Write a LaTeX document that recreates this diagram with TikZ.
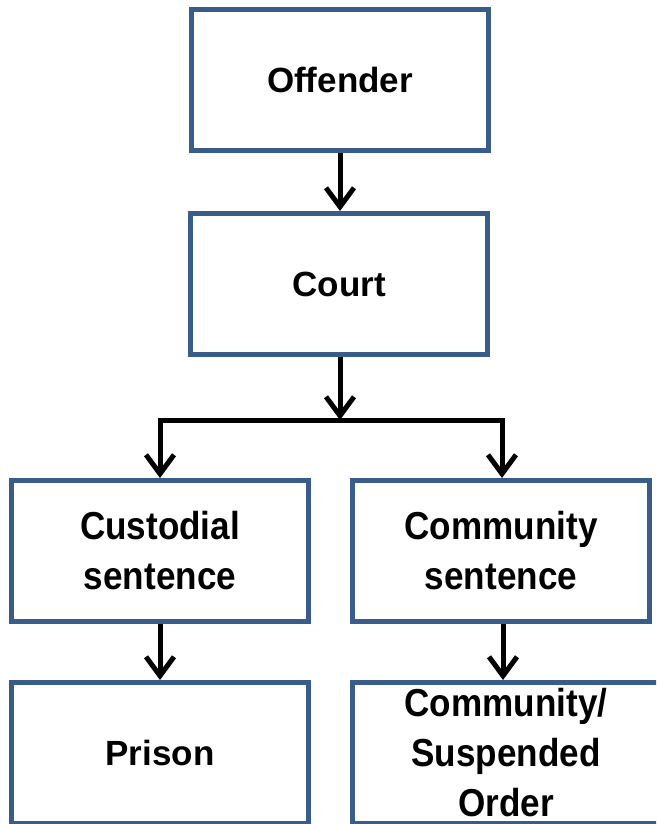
\documentclass[tikz,border=0pt]{standalone}
\usepackage{fontspec}
\setmainfont{Liberation Sans}
\newfontfamily\narrowfont[FakeStretch=0.9]{Liberation Sans}
\usetikzlibrary{arrows.meta}
\definecolor{boxblue}{HTML}{385D8A}

\begin{document}
\begin{tikzpicture}[x=1pt,y=-1pt,
  box/.style={draw=boxblue,line width=5pt,fill=white,minimum width=297pt,
    minimum height=141pt,align=center,font=\fontsize{35}{50}\selectfont\bfseries},
  twoline/.style={box,font=\narrowfont\fontsize{39}{50}\selectfont\bfseries},
  arr/.style={line width=5pt,-{Straight Barb[length=19pt,width=28pt]}}]
  \clip (0,0) rectangle (656,824);
  \node[box] (offender) at (340,80) {Offender};
  \node[box] (court) at (339,284) {Court};
  \node[twoline] (cust) at (160,551) {Custodial\\sentence};
  \node[twoline] (comm) at (501,551) {Community\\sentence};
  \node[box] (prison) at (160,753) {Prison};
  \node[twoline,minimum width=308pt] (order) at (506,753) {Community/\\Suspended\\Order};
  \coordinate (split) at (340,420);
  \draw[arr] (offender) -- (offender|-court.north);
  \draw[arr] (court.south-|split) -- (split);
  \draw[arr] (split) -| (cust.north);
  \draw[arr] (split) -| ([xshift=1pt]comm.north);
  \draw[arr] (cust) -- (prison);
  \draw[arr] ([xshift=2pt]comm.south) -- ([xshift=2pt]comm.south|-order.north);
\end{tikzpicture}
\end{document}
